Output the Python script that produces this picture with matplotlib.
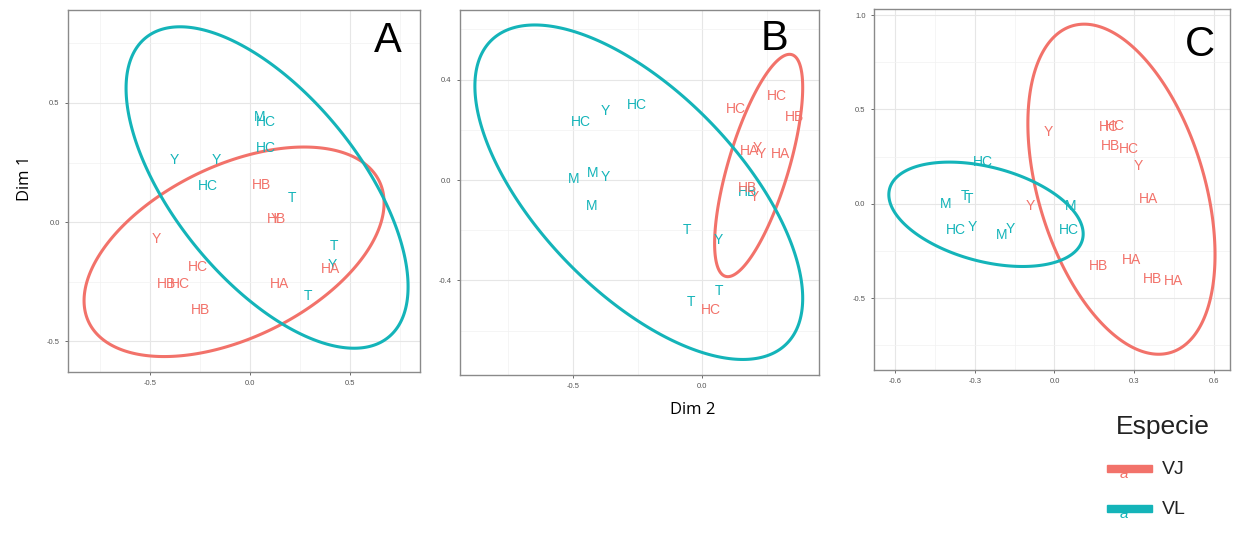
import numpy as np
import matplotlib.pyplot as plt
from matplotlib.patches import Rectangle, Polygon

plt.rcParams['font.family'] = ['Liberation Sans', 'DejaVu Sans']
plt.rcParams['axes.unicode_minus'] = False

VJ_COL = '#F2726A'
VL_COL = '#14B4B9'

# ---- panel A ----
a_lab = ['M', 'HC', 'HC', 'Y', 'Y', 'HC', 'T', 'T', 'Y', 'T',
         'HB', 'HB', 'Y', 'Y', 'HC', 'HB', 'HC', 'HB', 'HA', 'HA']
a_x = [0.047, 0.08, 0.08, -0.38, -0.17, -0.21, 0.21, 0.42, 0.41, 0.29,
       0.058, 0.13, 0.125, -0.47, -0.26, -0.42, -0.35, -0.25, 0.147, 0.40]
a_y = [0.44, 0.42, 0.31, 0.26, 0.26, 0.15, 0.10, -0.10, -0.18, -0.31,
       0.154, 0.014, 0.014, -0.07, -0.19, -0.26, -0.26, -0.37, -0.26, -0.196]
a_sp = ['VL'] * 10 + ['VJ'] * 10

# ---- panel B ----
b_lab = ['HC', 'Y', 'HC', 'M', 'M', 'Y', 'M', 'T', 'Y', 'T', 'T', 'HB',
         'HC', 'HC', 'HB', 'HA', 'Y', 'Y', 'HA', 'HB', 'Y', 'HC']
b_x = [-0.468, -0.375, -0.253, -0.496, -0.425, -0.375, -0.429, -0.058, 0.061, 0.064, -0.043, 0.177,
       0.131, 0.29, 0.357, 0.183, 0.215, 0.228, 0.305, 0.177, 0.202, 0.035]
b_y = [0.233, 0.275, 0.299, 0.004, 0.027, 0.013, -0.104, -0.199, -0.237, -0.443, -0.485, -0.047,
       0.283, 0.336, 0.25, 0.117, 0.126, 0.102, 0.104, -0.031, -0.066, -0.516]
b_sp = ['VL'] * 12 + ['VJ'] * 10

# ---- panel C ----
c_lab = ['HC', 'T', 'T', 'M', 'HC', 'Y', 'M', 'Y', 'M', 'HC',
         'Y', 'HC', 'HC', 'HB', 'HC', 'Y', 'HA', 'Y', 'HB', 'HA', 'HB', 'HA']
c_x = [-0.271, -0.337, -0.322, -0.408, -0.371, -0.309, -0.197, -0.168, 0.061, 0.056,
       -0.022, 0.204, 0.229, 0.212, 0.279, 0.314, 0.354, -0.091, 0.167, 0.289, 0.37, 0.448]
c_y = [0.221, 0.042, 0.025, 0.0, -0.138, -0.125, -0.164, -0.134, -0.011, -0.141,
       0.38, 0.406, 0.41, 0.304, 0.292, 0.198, 0.027, -0.014, -0.332, -0.297, -0.399, -0.408]
c_sp = ['VL'] * 10 + ['VJ'] * 12

# ellipses: centre x, centre y, half width, half height, x at top point
a_ell = {'VL': (0.085, 0.145, 0.705, 0.675, -0.35), 'VJ': (-0.08, -0.125, 0.75, 0.44, 0.27)}
b_ell = {'VL': (-0.2455, -0.0485, 0.6345, 0.6665, -0.648), 'VJ': (0.2185, 0.058, 0.1705, 0.443, 0.338)}
c_ell = {'VL': (-0.2575, -0.0555, 0.3655, 0.2765, -0.395), 'VJ': (0.252, 0.0775, 0.352, 0.8745, 0.112)}

colors = {'VJ': VJ_COL, 'VL': VL_COL}


def ellipse_pts(cx, cy, wx, wy, xtop):
    sxy = (xtop - cx) * wy
    S = np.array([[wx ** 2, sxy], [sxy, wy ** 2]])
    L = np.linalg.cholesky(S)
    t = np.linspace(0, 2 * np.pi, 300, endpoint=False)
    u = np.vstack([np.cos(t), np.sin(t)])
    p = L @ u
    return np.column_stack([cx + p[0], cy + p[1]])


def panel(ax, lab, xs, ys, sp, ell, xlim, ylim, xt, yt, xm, ym, letter, lpos):
    ax.set_xlim(xlim)
    ax.set_ylim(ylim)
    ax.set_xticks(xt)
    ax.set_yticks(yt)
    ax.set_xticks(xm, minor=True)
    ax.set_yticks(ym, minor=True)
    ax.grid(True, which='major', color='#e6e6e6', lw=0.8)
    ax.grid(True, which='minor', color='#f2f2f2', lw=0.5)
    ax.set_axisbelow(True)
    ax.tick_params(which='major', labelsize=5.5, colors='#555555', length=2.5, width=0.6)
    ax.tick_params(which='minor', length=0)
    for s in ax.spines.values():
        s.set_color('#8a8a8a')
        s.set_linewidth(1.0)
    for k in ['VJ', 'VL']:
        ax.add_patch(Polygon(ellipse_pts(*ell[k]), closed=True, fill=False,
                             edgecolor=colors[k], lw=2.2))
    for l, x, y, s in zip(lab, xs, ys, sp):
        ax.text(x, y, l, color=colors[s], fontsize=10, ha='center', va='center')
    ax.text(lpos[0], lpos[1], letter, transform=ax.transAxes, fontsize=30,
            ha='center', va='center', color='black')


fig = plt.figure(figsize=(12.33, 5.33), dpi=100)

ax1 = fig.add_axes([0.0552, 0.302, 0.2855, 0.679])
panel(ax1, a_lab, a_x, a_y, a_sp, a_ell, (-0.91, 0.85), (-0.63, 0.89),
      [-0.5, 0.0, 0.5], [-0.5, 0.0, 0.5], [-0.75, -0.25, 0.25, 0.75], [-0.25, 0.25, 0.75],
      'A', (0.909, 0.915))

ax2 = fig.add_axes([0.373, 0.2964, 0.291, 0.685])
panel(ax2, b_lab, b_x, b_y, b_sp, b_ell, (-0.938, 0.451), (-0.777, 0.678),
      [-0.5, 0.0], [-0.4, 0.0, 0.4], [-0.75, -0.25, 0.25], [-0.6, -0.2, 0.2, 0.6],
      'B', (0.877, 0.92))

ax3 = fig.add_axes([0.7088, 0.306, 0.2887, 0.677])
panel(ax3, c_lab, c_x, c_y, c_sp, c_ell, (-0.679, 0.66), (-0.88, 1.032),
      [-0.6, -0.3, 0.0, 0.3, 0.6], [-0.5, 0.0, 0.5, 1.0],
      [-0.45, -0.15, 0.15, 0.45], [-0.75, -0.25, 0.25, 0.75], 'C', (0.916, 0.9))
ax3.set_xticklabels(['-0.6', '-0.3', '0.0', '0.3', '0.6'])

fig.text(25 / 1233, 1 - 178 / 533, 'Dim 1', rotation=90, fontsize=12,
         family=['Open Sans', 'DejaVu Sans'], ha='center', va='center')
fig.text(693 / 1233, 1 - 410 / 533, 'Dim 2', fontsize=12,
         family=['Open Sans', 'DejaVu Sans'], ha='center', va='center')

# legend
fig.text(1163 / 1233, 1 - 427 / 533, 'Especie', fontsize=19, color='#222222',
         ha='center', va='center')
for i, (name, col) in enumerate([('VJ', VJ_COL), ('VL', VL_COL)]):
    yc = 469 + i * 40
    fig.patches.append(Rectangle((1107 / 1233, 1 - (yc + 3) / 533), 45 / 1233, 7 / 533,
                                 transform=fig.transFigure, color=col))
    fig.text(1124 / 1233, 1 - (yc + 5) / 533, 'a', fontsize=11, color=col,
             style='italic', ha='center', va='center')
    fig.text(1162 / 1233, 1 - yc / 533, name, fontsize=14, color='#222222',
             ha='left', va='center')

fig.savefig('out.png', dpi=100)
